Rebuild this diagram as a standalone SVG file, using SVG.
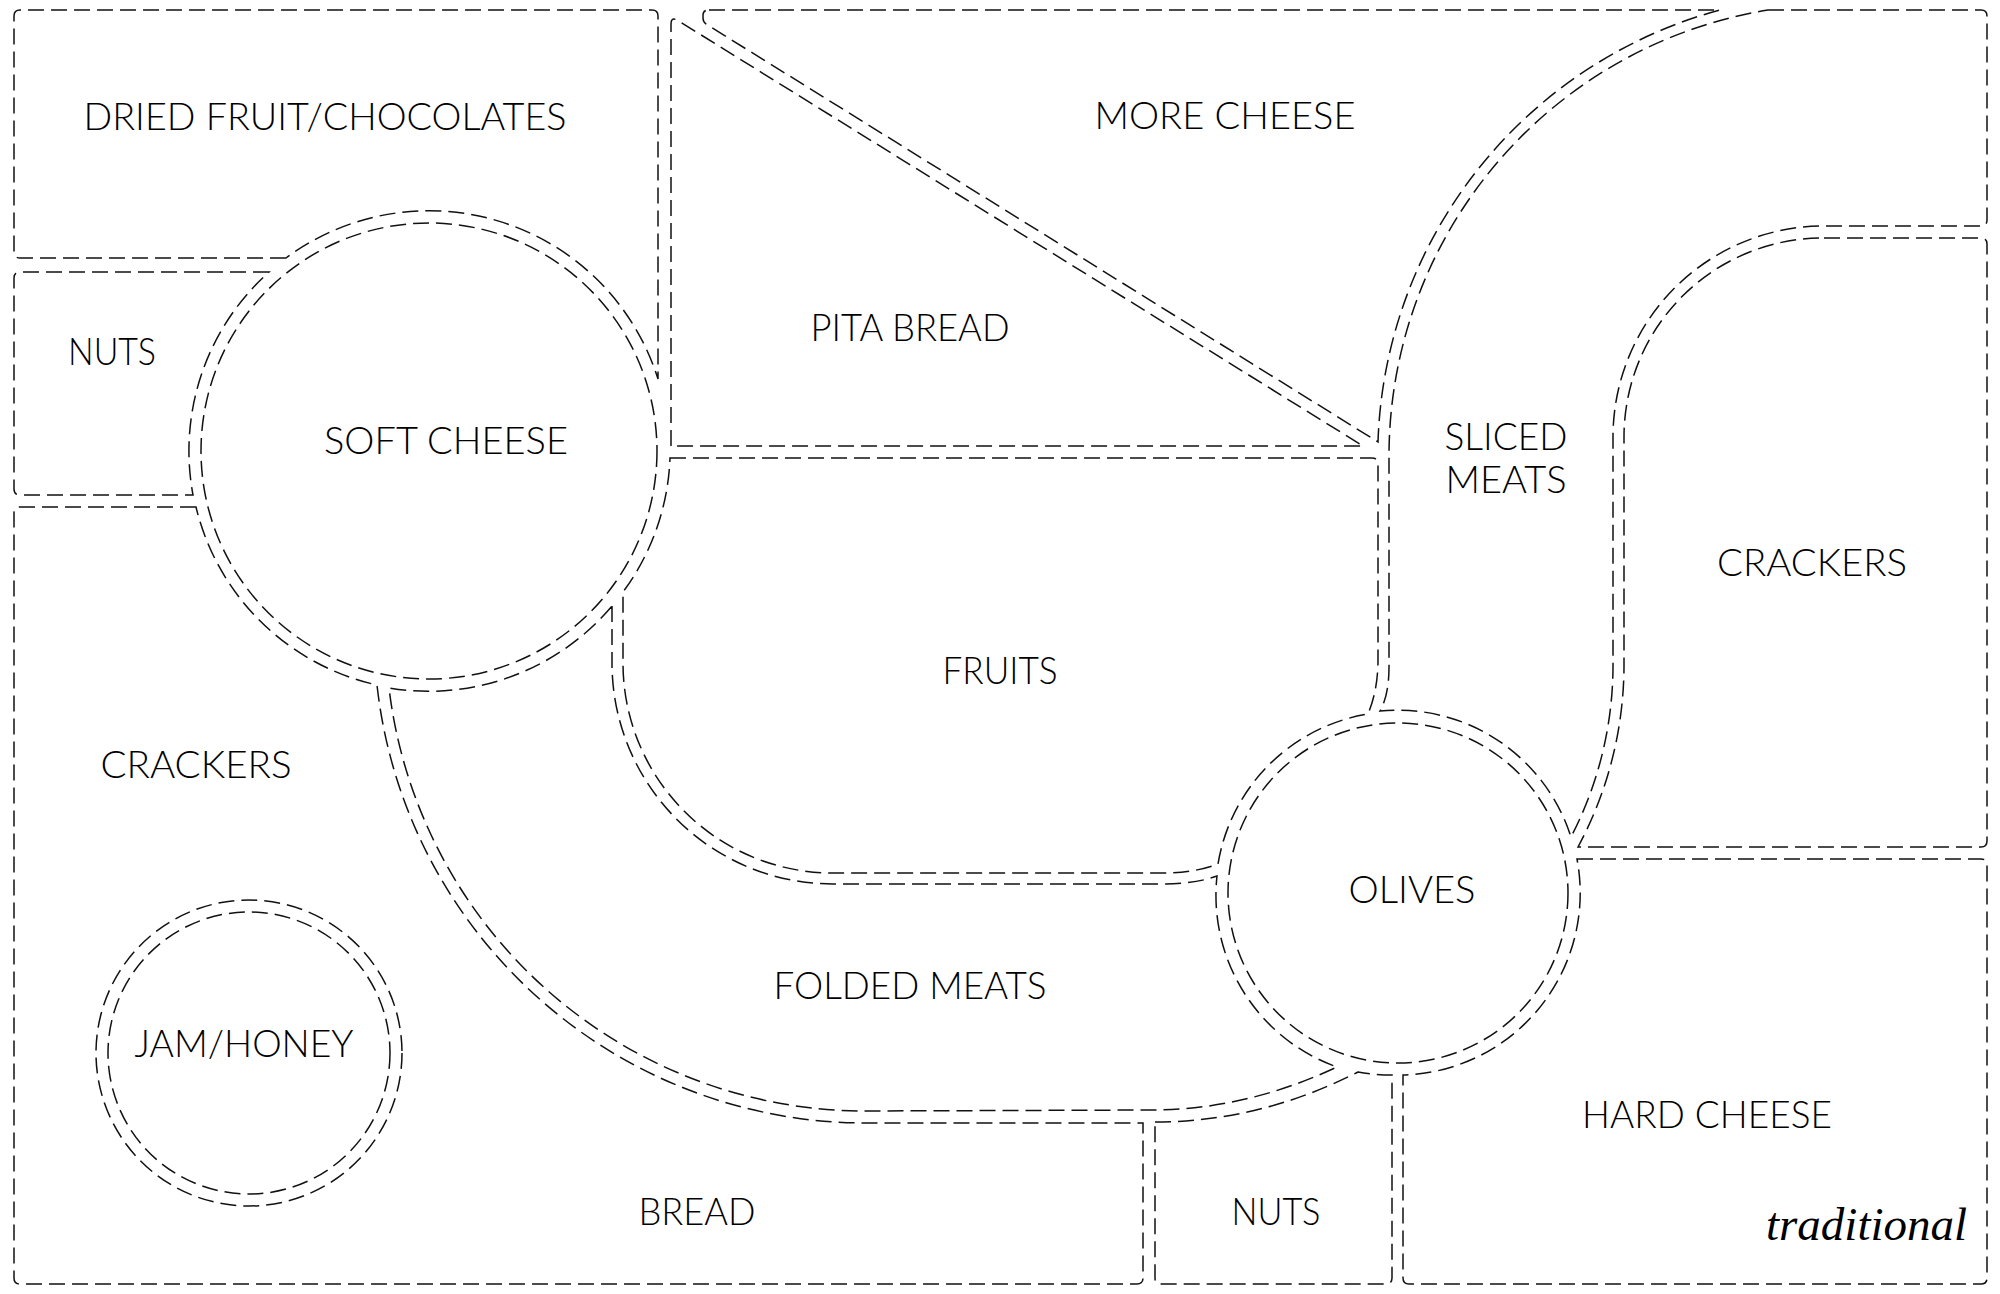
<svg xmlns="http://www.w3.org/2000/svg" width="2000" height="1294" viewBox="0 0 2000 1294">
<style>
.c{fill:none;stroke:#111;stroke-width:1.5;stroke-dasharray:16 7;}
.t{font-family:Lato,"Noto Sans","Liberation Sans",sans-serif;font-weight:300;font-size:37px;fill:#000;text-anchor:middle;}
.s{font-family:"Liberation Serif","DejaVu Serif",serif;font-style:italic;font-size:47px;fill:#000;}
</style>
<rect width="2000" height="1294" fill="#fff"/>
<g id="dried-fruit">
<path class="c" d="M286,258 L20,258 Q14,258 14,252 L14,16 Q14,10 20,10 L652,10 Q658,10 658,16 L658,379 A240 240 0 0 0 286,258 Z"/>
<text class="t" x="325" y="130" textLength="483" lengthAdjust="spacingAndGlyphs">DRIED FRUIT/CHOCOLATES</text>
</g>
<g id="nuts-top">
<path class="c" d="M269,272 L20,272 Q14,272 14,278 L14,489 Q14,495 20,495 L193,495 A240 240 0 0 1 269,272 Z"/>
<text class="t" x="112" y="365" textLength="88" lengthAdjust="spacingAndGlyphs">NUTS</text>
</g>
<g id="soft-cheese">
<circle class="c" cx="429" cy="451" r="228"/>
<text class="t" x="446" y="454" textLength="244" lengthAdjust="spacingAndGlyphs">SOFT CHEESE</text>
</g>
<g id="pita-bread">
<path class="c" d="M671,446 L671,24 Q671,17 677,20 L1363,446 Z"/>
<text class="t" x="910" y="341" textLength="199" lengthAdjust="spacingAndGlyphs">PITA BREAD</text>
</g>
<g id="more-cheese">
<path class="c" d="M709,10 L1720,10 A463 463 0 0 0 1378,442 L706,24 Q703,22 703,18 L703,15 Q703,10 709,10 Z"/>
<text class="t" x="1225" y="129" textLength="261" lengthAdjust="spacingAndGlyphs">MORE CHEESE</text>
</g>
<g id="sliced-meats">
<path class="c" d="M1768,10 L1981,10 Q1987,10 1987,16 L1987,220 Q1987,226 1981,226 L1824,226 A211 211 0 0 0 1613,437 L1613,667 A373 373 0 0 1 1571,837 A182 182 0 0 0 1380,711 Q1389,695 1389,667 L1389,456 A452 452 0 0 1 1768,10 Z"/>
<text class="t" x="1506" y="450" textLength="123" lengthAdjust="spacingAndGlyphs">SLICED</text>
<text class="t" x="1506" y="493" textLength="121" lengthAdjust="spacingAndGlyphs">MEATS</text>
</g>
<g id="crackers-right">
<path class="c" d="M1824,238 L1981,238 Q1987,238 1987,244 L1987,841 Q1987,847 1981,847 L1578,847 A385 385 0 0 0 1624,667 L1624,437 A199 199 0 0 1 1824,238 Z"/>
<text class="t" x="1812" y="576" textLength="190" lengthAdjust="spacingAndGlyphs">CRACKERS</text>
</g>
<g id="fruits">
<path class="c" d="M670,458 L1372,458 Q1378,458 1378,464 L1378,660 Q1378,690 1368,714 A182 182 0 0 0 1218,864 Q1195,873 1162,873 L833,873 A210 210 0 0 1 623,663 L623,592 A240 240 0 0 0 670,458 Z"/>
<text class="t" x="1000" y="684" textLength="115" lengthAdjust="spacingAndGlyphs">FRUITS</text>
</g>
<g id="folded-meats">
<path class="c" d="M612,606 L612,663 A221 221 0 0 0 833,884 L1162,884 Q1195,884 1217,876 A182 182 0 0 0 1337,1067 Q1245,1110 1152,1110 L866,1111 A480 480 0 0 1 389,688 A240 240 0 0 0 612,606 Z"/>
<text class="t" x="910" y="999" textLength="273" lengthAdjust="spacingAndGlyphs">FOLDED MEATS</text>
</g>
<g id="olives">
<circle class="c" cx="1398" cy="893" r="170"/>
<text class="t" x="1412" y="903" textLength="127" lengthAdjust="spacingAndGlyphs">OLIVES</text>
</g>
<g id="crackers-bread">
<path class="c" d="M196,507 L20,507 Q14,507 14,513 L14,1278 Q14,1284 20,1284 L1137,1284 Q1143,1284 1143,1278 L1143,1123 L866,1123 A492 492 0 0 1 377,685 A240 240 0 0 1 196,507 Z"/>
<circle class="c" cx="249" cy="1053" r="153"/>
<text class="t" x="196" y="778" textLength="191" lengthAdjust="spacingAndGlyphs">CRACKERS</text>
<text class="t" x="697" y="1225" textLength="117" lengthAdjust="spacingAndGlyphs">BREAD</text>
</g>
<g id="jam-honey">
<circle class="c" cx="249" cy="1053" r="141"/>
<text class="t" x="244" y="1057" textLength="219" lengthAdjust="spacingAndGlyphs">JAM/HONEY</text>
</g>
<g id="nuts-bottom">
<path class="c" d="M1155,1122 Q1260,1122 1358,1072 A182 182 0 0 0 1392,1075 L1392,1278 Q1392,1284 1386,1284 L1161,1284 Q1155,1284 1155,1278 Z"/>
<text class="t" x="1276" y="1225" textLength="89" lengthAdjust="spacingAndGlyphs">NUTS</text>
</g>
<g id="hard-cheese">
<path class="c" d="M1577,859 L1981,859 Q1987,859 1987,865 L1987,1278 Q1987,1284 1981,1284 L1409,1284 Q1403,1284 1403,1278 L1403,1075 A182 182 0 0 0 1577,859 Z"/>
<text class="t" x="1707" y="1128" textLength="250" lengthAdjust="spacingAndGlyphs">HARD CHEESE</text>
<text class="s" x="1766" y="1240">traditional</text>
</g>
</svg>
